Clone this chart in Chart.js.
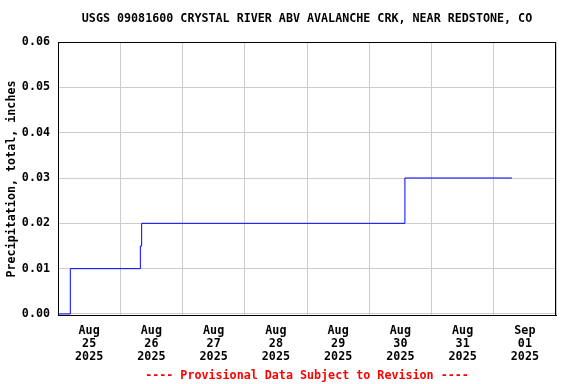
<!DOCTYPE html>
<html>
<head>
<meta charset="utf-8">
<script src="https://cdn.jsdelivr.net/npm/chart.js@4"></script>
<style>
  body { margin: 0; background: #fff; }
</style>
</head>
<body>
<canvas id="chart" width="576" height="384"></canvas>
<script>
// hours since Aug 25 2025 00:00 and cumulative precipitation (inches)
const hours = [0, 4.75, 31.75, 32.25, 133.75, 175];
const precip = [0, 0.01, 0.015, 0.02, 0.03, 0.03];

// day labels, centered at noon of each day
const dayCenters = [12, 36, 60, 84, 108, 132, 156, 180];
const dayLabels = [
    ["Aug", "25", "2025"], ["Aug", "26", "2025"], ["Aug", "27", "2025"], ["Aug", "28", "2025"],
    ["Aug", "29", "2025"], ["Aug", "30", "2025"], ["Aug", "31", "2025"], ["Sep", "01", "2025"]
];
const yTicks = [0, 0.01, 0.02, 0.03, 0.04, 0.05, 0.06];

const mono = "'DejaVu Sans Mono', monospace";

// outline of the plot area, under the data line
const frame = {
    id: "frame",
    beforeDatasetsDraw(chart) {
        const a = chart.chartArea;
        const c = chart.ctx;
        c.save();
        c.strokeStyle = "#000";
        c.lineWidth = 1;
        c.strokeRect(Math.round(a.left) + 0.5, Math.round(a.top) + 0.5,
            Math.round(a.right - a.left) - 1, Math.round(a.bottom - a.top) - 1);
        c.restore();
    }
};

new Chart(document.getElementById("chart"), {
    type: "line",
    data: {
        datasets: [{
            data: hours.map((h, i) => ({ x: h, y: precip[i] })),
            borderColor: "#0000ff",
            borderWidth: 1,
            pointRadius: 0,
            stepped: true,
            fill: false
        }]
    },
    options: {
        responsive: false,
        animation: false,
        layout: { padding: { left: 0, right: 20, top: 0, bottom: 0 } },
        plugins: {
            legend: { display: false },
            tooltip: { enabled: false },
            title: {
                display: true,
                fullSize: false,
                text: "USGS 09081600 CRYSTAL RIVER ABV AVALANCHE CRK, NEAR REDSTONE, CO",
                color: "#000",
                font: { family: mono, size: 11.7, weight: "bold" },
                padding: { top: 12, bottom: 16 }
            },
            subtitle: {
                display: true,
                fullSize: false,
                position: "bottom",
                text: "---- Provisional Data Subject to Revision ----",
                color: "#ff0000",
                font: { family: mono, size: 11.7, weight: "bold" },
                padding: { top: 0, bottom: 1 }
            }
        },
        scales: {
            x: {
                type: "linear",
                min: 0,
                max: 192,
                ticks: { display: false, stepSize: 24 },
                grid: { color: "#cccccc", drawTicks: false },
                border: { display: true, color: "#000" },
                afterFit: axis => { axis.height = 0; }
            },
            xl: {
                type: "linear",
                position: "bottom",
                min: 0,
                max: 192,
                grid: { display: false },
                border: { display: false },
                afterBuildTicks: axis => { axis.ticks = dayCenters.map(v => ({ value: v })); },
                ticks: {
                    autoSkip: false,
                    maxRotation: 0,
                    padding: 1,
                    color: "#000",
                    font: { family: mono, size: 11.7, weight: "bold", lineHeight: 1.11 },
                    callback: (v, i) => dayLabels[i]
                },
                afterFit: axis => { axis.height = 53; }
            },
            y: {
                min: -0.00044,
                max: 0.06,
                afterBuildTicks: axis => { axis.ticks = yTicks.map(v => ({ value: v })); },
                ticks: {
                    padding: 8,
                    color: "#000",
                    font: { family: mono, size: 11.7, weight: "bold" },
                    callback: v => v.toFixed(2)
                },
                grid: { color: "#cccccc", drawTicks: false },
                border: { display: true, color: "#000" },
                title: {
                    display: true,
                    text: "Precipitation, total, inches",
                    color: "#000",
                    font: { family: mono, size: 11.7, weight: "bold" },
                    padding: { top: 5, bottom: 0 }
                },
                afterFit: axis => { axis.width = 58; }
            }
        }
    },
    plugins: [frame]
});
</script>
</body>
</html>
